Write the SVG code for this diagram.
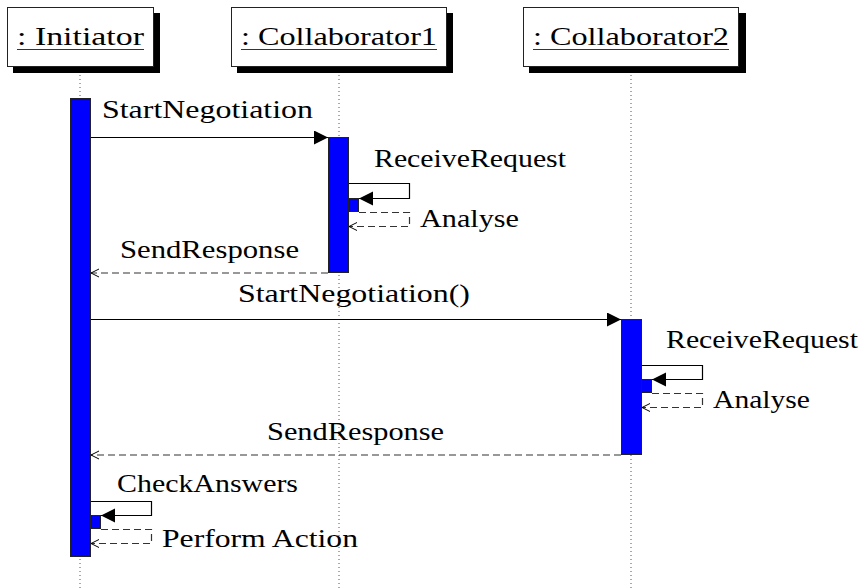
<svg xmlns="http://www.w3.org/2000/svg" width="865" height="588" viewBox="0 0 865 588">
  <style>
    text { font-family: "Liberation Serif", "DejaVu Serif", serif; font-size: 25px; fill: #000; }
    .head { fill: #fff; stroke: #222; stroke-width: 1; }
    .shadow { fill: #000; }
    .uline { stroke: #333; stroke-width: 1.2; }
    .life { stroke: #555; stroke-width: 1; stroke-dasharray: 1 3; fill: none; }
    .act { fill: #0000ff; stroke: #222; stroke-width: 1; }
    .call { stroke: #000; stroke-width: 1.2; fill: none; marker-end: url(#solid); }
    .ret { stroke: #333; stroke-width: 1.2; fill: none; stroke-dasharray: 7 4; marker-end: url(#open); }
  </style>
  <defs>
    <marker id="solid" markerUnits="userSpaceOnUse" markerWidth="15" markerHeight="15" refX="14" refY="7" orient="auto">
      <path d="M0,0 L14,7 L0,14 Z" fill="#000"/>
    </marker>
    <marker id="open" markerUnits="userSpaceOnUse" markerWidth="10" markerHeight="10" refX="9" refY="4.5" orient="auto">
      <path d="M1,0.5 L9,4.5 L1,8.5" fill="none" stroke="#000" stroke-width="1"/>
    </marker>
  </defs>

  <rect width="865" height="588" fill="#fff"/>

  <!-- lifelines -->
  <g id="lifelines">
    <line class="life" x1="80" y1="67" x2="80" y2="588"/>
    <line class="life" x1="339" y1="67" x2="339" y2="588"/>
    <line class="life" x1="631" y1="67" x2="631" y2="588"/>
  </g>

  <!-- participants -->
  <g id="initiator">
    <rect class="shadow" x="13" y="13" width="147" height="60"/>
    <rect class="head" x="7.5" y="7.5" width="146" height="59"/>
    <text x="17" y="45" textLength="127" lengthAdjust="spacingAndGlyphs">: Initiator</text>
    <line class="uline" x1="17" y1="49.5" x2="144" y2="49.5"/>
    <rect class="act" x="70.5" y="98.5" width="20" height="458"/>
  </g>

  <g id="collaborator1">
    <rect class="shadow" x="237" y="13" width="216" height="60"/>
    <rect class="head" x="231.5" y="7.5" width="215" height="59"/>
    <text x="241" y="45" textLength="196" lengthAdjust="spacingAndGlyphs">: Collaborator1</text>
    <line class="uline" x1="241" y1="49.5" x2="437" y2="49.5"/>
    <rect class="act" x="328.5" y="137.5" width="20" height="135"/>
    <rect class="act" x="348.5" y="198.5" width="10" height="13"/>
  </g>

  <g id="collaborator2">
    <rect class="shadow" x="529" y="13" width="217" height="60"/>
    <rect class="head" x="523.5" y="7.5" width="215" height="59"/>
    <text x="533" y="45" textLength="196" lengthAdjust="spacingAndGlyphs">: Collaborator2</text>
    <line class="uline" x1="533" y1="49.5" x2="729" y2="49.5"/>
    <rect class="act" x="621.5" y="319.5" width="20" height="135"/>
    <rect class="act" x="641.5" y="379.5" width="10" height="13"/>
  </g>

  <g id="initiator-self">
    <rect class="act" x="90.5" y="515.5" width="10" height="13"/>
  </g>

  <!-- messages -->
  <g id="connectors">
    <line class="call" x1="91" y1="137.5" x2="328" y2="137.5"/>
    <path class="call" d="M349,183.5 H409.5 V198.5 H359"/>
    <path class="ret" d="M359,212.5 H409.5 V226.5 H349"/>
    <line class="ret" x1="328" y1="273" x2="91" y2="273"/>
    <line class="call" x1="91" y1="319.5" x2="621" y2="319.5"/>
    <path class="call" d="M642,365.5 H702.5 V379.5 H652"/>
    <path class="ret" d="M652,393.5 H702.5 V407.5 H642"/>
    <line class="ret" x1="621" y1="455" x2="91" y2="455"/>
    <path class="call" d="M91,501.5 H151.5 V515.5 H101"/>
    <path class="ret" d="M101,529.5 H151.5 V543.5 H91"/>
  </g>

  <!-- message labels -->
  <g id="labels">
    <text x="102" y="118" textLength="211" lengthAdjust="spacingAndGlyphs">StartNegotiation</text>
    <text x="374" y="167" textLength="192" lengthAdjust="spacingAndGlyphs">ReceiveRequest</text>
    <text x="420" y="227" textLength="99" lengthAdjust="spacingAndGlyphs">Analyse</text>
    <text x="120" y="258" textLength="179" lengthAdjust="spacingAndGlyphs">SendResponse</text>
    <text x="238" y="302" textLength="232" lengthAdjust="spacingAndGlyphs">StartNegotiation()</text>
    <text x="666" y="348" textLength="192" lengthAdjust="spacingAndGlyphs">ReceiveRequest</text>
    <text x="713" y="408" textLength="97" lengthAdjust="spacingAndGlyphs">Analyse</text>
    <text x="267" y="440" textLength="177" lengthAdjust="spacingAndGlyphs">SendResponse</text>
    <text x="117" y="492" textLength="181" lengthAdjust="spacingAndGlyphs">CheckAnswers</text>
    <text x="162" y="547" textLength="196" lengthAdjust="spacingAndGlyphs">Perform Action</text>
  </g>
</svg>
